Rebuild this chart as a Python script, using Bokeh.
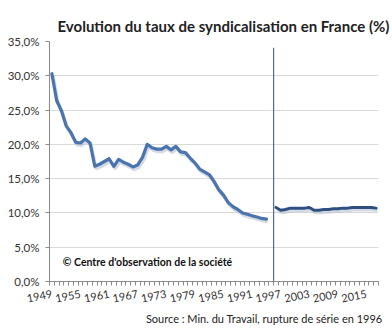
from bokeh.plotting import figure
from bokeh.models import FixedTicker, Range1d, Label, Title
from bokeh.embed import file_html
from bokeh.resources import INLINE

# ---- data ----
years_old = list(range(1949, 1995))
rate_old = [30.3, 26.4, 24.9, 22.7, 21.7, 20.3, 20.2, 20.8, 20.2, 16.8,
            17.1, 17.5, 17.9, 16.8, 17.8, 17.4, 17.1, 16.7, 17.0, 18.1,
            20.0, 19.5, 19.3, 19.3, 19.7, 19.2, 19.7, 18.9, 18.8, 18.0,
            17.3, 16.4, 16.0, 15.6, 14.6, 13.4, 12.6, 11.5, 10.9, 10.5,
            10.0, 9.8, 9.6, 9.4, 9.2, 9.1]
years_new = list(range(1996, 2018))
rate_new = [10.8, 10.4, 10.5, 10.7, 10.7, 10.7, 10.7, 10.8, 10.4, 10.4,
            10.5, 10.5, 10.6, 10.6, 10.7, 10.7, 10.8, 10.8, 10.8, 10.8,
            10.8, 10.7]
first_year, last_year = 1949, 2017
label_years = list(range(1949, 2018, 6))
y_ticks = [0, 5, 10, 15, 20, 25, 30, 35]
y_labels = ["0,0%", "5,0%", "10,0%", "15,0%", "20,0%", "25,0%", "30,0%", "35,0%"]
rupture_x = 1995.5
rupture_top = 34.1

FONT = "Lato"

p = figure(width=392, height=330, output_backend="svg", toolbar_location=None,
           x_range=Range1d(first_year - 0.5, last_year + 0.5),
           y_range=Range1d(0, 35),
           min_border_left=49, min_border_right=14,
           min_border_top=41, min_border_bottom=49)
p.outline_line_color = None
p.background_fill_color = "white"
p.border_fill_color = "white"

# title
p.title.text = "Evolution du taux de syndicalisation en France (%)"
p.title.text_font = FONT
p.title.text_font_size = "15px"
p.title.text_font_style = "bold"
p.title.text_color = "#222222"
p.title.align = "left"
p.title.offset = 8
p.title.standoff = 13

# grid
p.xgrid.grid_line_color = None
p.ygrid.grid_line_color = "#d9d9d9"
p.ygrid.grid_line_width = 1

# y axis
p.yaxis.ticker = FixedTicker(ticks=y_ticks)
p.yaxis.major_label_overrides = {t: l for t, l in zip(y_ticks, y_labels)}
p.yaxis.axis_line_color = "#8a8a8a"
p.yaxis.major_tick_line_color = "#8a8a8a"
p.yaxis.major_tick_out = 4
p.yaxis.major_tick_in = 0
p.yaxis.minor_tick_line_color = None
p.yaxis.major_label_text_font = FONT
p.yaxis.major_label_text_font_size = "11.5px"
p.yaxis.major_label_text_color = "#333333"
p.yaxis.major_label_standoff = 6

# x axis
bounds = [first_year - 0.5 + i for i in range(last_year - first_year + 2)]
p.xaxis.ticker = FixedTicker(ticks=label_years, minor_ticks=bounds)
p.xaxis.axis_line_color = "#8a8a8a"
p.xaxis.major_tick_line_color = None
p.xaxis.minor_tick_line_color = "#8a8a8a"
p.xaxis.minor_tick_out = 4
p.xaxis.minor_tick_in = 0
p.xaxis.major_label_text_font = FONT
p.xaxis.major_label_text_font_size = "11px"
p.xaxis.major_label_text_color = "#333333"
p.xaxis.major_label_orientation = 0.2
p.xaxis.major_label_standoff = 6

# shadows
p.line([y + 0.25 for y in years_old], [v - 0.35 for v in rate_old],
       line_color="#b8c2d2", line_width=3.5, line_alpha=0.6)
p.line([y + 0.25 for y in years_new], [v - 0.35 for v in rate_new],
       line_color="#b8c2d2", line_width=3.5, line_alpha=0.6)

# series
p.line(years_old, rate_old, line_color="#4a74ae", line_width=3.2,
       line_join="round", line_cap="round")
p.line(years_new, rate_new, line_color="#2e4f7f", line_width=3.0,
       line_join="round", line_cap="round")

# rupture line
p.segment(x0=[rupture_x], y0=[0], x1=[rupture_x], y1=[rupture_top],
          line_color="#4f6d9a", line_width=1.2)

# copyright
p.add_layout(Label(x=1951.3, y=2.8, text="\u00a9 Centre d'observation de la soci\u00e9t\u00e9",
                   text_font=FONT, text_font_size="10.5px", text_font_style="bold",
                   text_color="#111111", text_baseline="middle"))

# source
src = Title(text="Source : Min. du Travail, rupture de s\u00e9rie en 1996",
            text_font=FONT, text_font_size="11px", text_font_style="normal",
            text_color="#222222", align="right", offset=-4, standoff=0)
p.add_layout(src, "below")

open("out.html", "w").write(file_html(p, INLINE))
